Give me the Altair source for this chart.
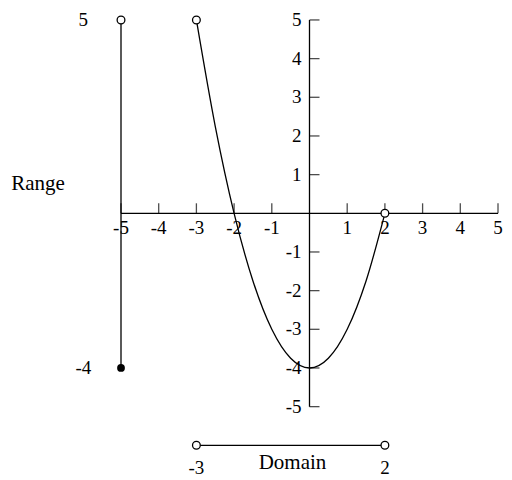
import altair as alt
import pandas as pd

# ---- data ----
curve_x = [-3, -2.5, -2, -1.5, -1, -0.5, 0, 0.5, 1, 1.5, 2]
curve_y = [5, 2.25, 0, -1.75, -3, -3.75, -4, -3.75, -3, -1.75, 0]

x_ticks = [-5, -4, -3, -2, -1, 1, 2, 3, 4, 5]
y_ticks = [5, 4, 3, 2, 1, -1, -2, -3, -4, -5]
x_tick_labels = ["-5", "-4", "-3", "-2", "-1", "1", "2", "3", "4", "5"]
y_tick_labels = ["5", "4", "3", "2", "1", "-1", "-2", "-3", "-4", "-5"]
axis_min, axis_max = -5, 5

range_x = -5
range_top, range_bottom = 5, -4
range_label_x = -6
range_labels = ["5", "-4"]
range_title = "Range"
range_title_pos = (-7.20, 0.60)

domain_y = -6
domain_left, domain_right = -3, 2
domain_labels = ["-3", "2"]
domain_label_y = -6.73
domain_title = "Domain"
domain_title_pos = (-0.45, -6.60)

open_pts_x = [-3, 2, -5, -3, 2]
open_pts_y = [5, 0, 5, -6, -6]
filled_pts_x = [-5]
filled_pts_y = [-4]

# ---- layout / styling ----
FONT = "Liberation Serif"
FS = 19
FS_WORD = 21
LW = 1.3
W, H = 496, 470
PX_PER_X, PX_PER_Y = 37.7, 38.67
x0 = -5 - 113 / PX_PER_X
y1 = 205.3 / PX_PER_Y
xs = alt.Scale(domain=[x0, x0 + W / PX_PER_X], nice=False, zero=False)
ys = alt.Scale(domain=[y1 - H / PX_PER_Y, y1], nice=False, zero=False)
X = lambda f: alt.X(f, type="quantitative", scale=xs, axis=None)
Y = lambda f: alt.Y(f, type="quantitative", scale=ys, axis=None)

axes_df = pd.DataFrame({
    "x": [axis_min, 0], "x2": [axis_max, 0],
    "y": [0, axis_min], "y2": [0, axis_max],
})
axes = alt.Chart(axes_df).mark_rule(color="black", strokeWidth=LW).encode(
    x=X("x"), x2="x2", y=Y("y"), y2="y2")

xt_df = pd.DataFrame({"x": x_ticks, "y": [0] * len(x_ticks), "t": x_tick_labels})
yt_df = pd.DataFrame({"x": [0] * len(y_ticks), "y": y_ticks, "t": y_tick_labels})

xtick = alt.Chart(xt_df).mark_tick(orient="vertical", size=10, thickness=LW,
                                   color="black", yOffset=-5).encode(x=X("x"), y=Y("y"))
ytick = alt.Chart(yt_df).mark_tick(orient="horizontal", size=10, thickness=LW,
                                   color="black", xOffset=5).encode(x=X("x"), y=Y("y"))
xlab = alt.Chart(xt_df).mark_text(font=FONT, fontSize=FS, color="black", align="center",
                                  baseline="middle", dy=15).encode(x=X("x"), y=Y("y"), text="t")
ylab = alt.Chart(yt_df).mark_text(font=FONT, fontSize=FS, color="black", align="right",
                                  baseline="middle", dx=-8).encode(x=X("x"), y=Y("y"), text="t")

curve_df = pd.DataFrame({"x": curve_x, "y": curve_y})
curve = alt.Chart(curve_df).mark_line(color="black", strokeWidth=LW, interpolate="monotone").encode(
    x=X("x"), y=Y("y"), order="x")

seg_df = pd.DataFrame({
    "x": [range_x, domain_left], "x2": [range_x, domain_right],
    "y": [range_top, domain_y], "y2": [range_bottom, domain_y],
})
segs = alt.Chart(seg_df).mark_rule(color="black", strokeWidth=LW).encode(
    x=X("x"), x2="x2", y=Y("y"), y2="y2")

open_df = pd.DataFrame({"x": open_pts_x, "y": open_pts_y})
opens = alt.Chart(open_df).mark_point(shape="circle", size=60, filled=True, fill="white",
                                      stroke="black", strokeWidth=LW, opacity=1).encode(
    x=X("x"), y=Y("y"))
filled_df = pd.DataFrame({"x": filled_pts_x, "y": filled_pts_y})
fills = alt.Chart(filled_df).mark_point(shape="circle", size=60, filled=True, color="black",
                                        opacity=1).encode(x=X("x"), y=Y("y"))

rl_df = pd.DataFrame({"x": [range_label_x] * 2, "y": [range_top, range_bottom], "t": range_labels})
rlab = alt.Chart(rl_df).mark_text(font=FONT, fontSize=FS, color="black", align="center",
                                  baseline="middle").encode(x=X("x"), y=Y("y"), text="t")

dl_df = pd.DataFrame({"x": [domain_left, domain_right], "y": [domain_label_y] * 2, "t": domain_labels})
dlab = alt.Chart(dl_df).mark_text(font=FONT, fontSize=FS, color="black", align="center",
                                  baseline="alphabetic").encode(x=X("x"), y=Y("y"), text="t")

titles_df = pd.DataFrame({
    "x": [range_title_pos[0], domain_title_pos[0]],
    "y": [range_title_pos[1], domain_title_pos[1]],
    "t": [range_title, domain_title],
})
titles = alt.Chart(titles_df).mark_text(font=FONT, fontSize=FS_WORD, color="black", align="center",
                                        baseline="alphabetic").encode(x=X("x"), y=Y("y"), text="t")

chart = alt.layer(axes, xtick, ytick, xlab, ylab, segs, curve, opens, fills, rlab, dlab, titles).properties(
    width=W, height=H, padding=0, autosize=alt.AutoSizeParams(type="none"),
    background="white",
).configure_view(stroke=None)

chart.save("out.html", embed_options={"renderer": "svg", "actions": False})
